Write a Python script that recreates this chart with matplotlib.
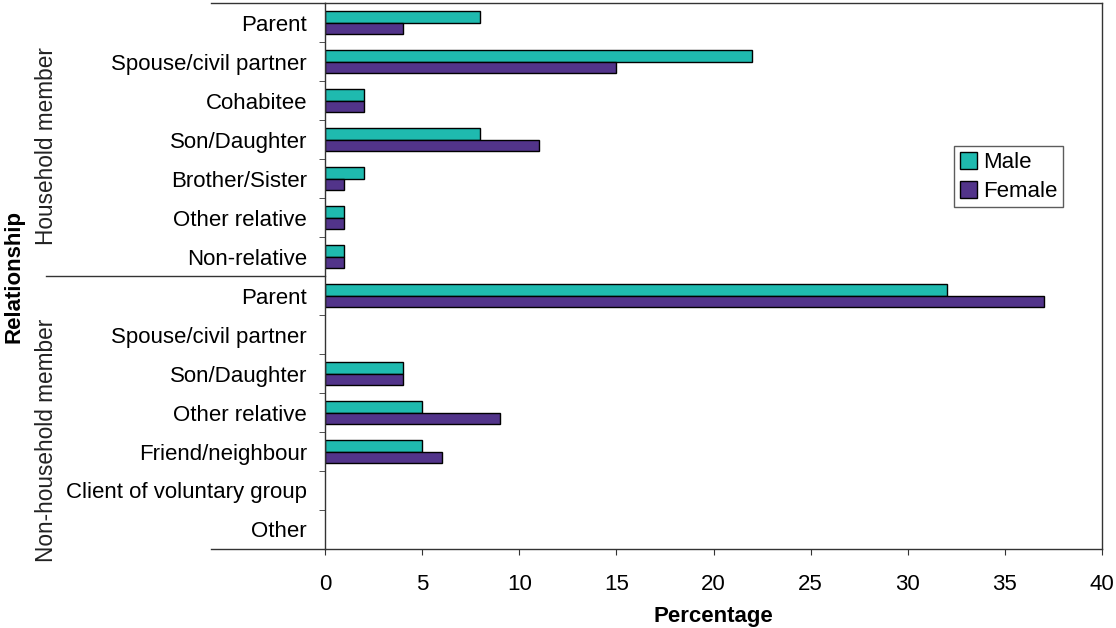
import numpy as np
import matplotlib
matplotlib.use('Agg')
import matplotlib.pyplot as plt
from matplotlib.lines import Line2D

plt.rcParams['font.family'] = ['Liberation Sans', 'DejaVu Sans']

# ---- data ----
categories = ["Parent", "Spouse/civil partner", "Cohabitee", "Son/Daughter",
              "Brother/Sister", "Other relative", "Non-relative",
              "Parent", "Spouse/civil partner", "Son/Daughter", "Other relative",
              "Friend/neighbour", "Client of voluntary group", "Other"]
male = [8, 22, 2, 8, 2, 1, 1, 32, 0, 4, 5, 5, 0, 0]
female = [4, 15, 2, 11, 1, 1, 1, 37, 0, 4, 9, 6, 0, 0]
groups = ["Household member", "Non-household member"]
xticks = [0, 5, 10, 15, 20, 25, 30, 35, 40]

MALE_C = '#1fbaaf'
FEMALE_C = '#52348a'
LINE_C = '#333333'

fig = plt.figure(figsize=(11.16, 6.28), dpi=100)
ax = fig.add_axes([0.2912, 0.1258, 0.6963, 0.8694])

y = np.arange(len(categories))
h = 0.283
# zero-length bars get no outline (Excel draws nothing there)
lw_m = [1.0 if v > 0 else 0 for v in male]
lw_f = [1.0 if v > 0 else 0 for v in female]
ax.barh(y - h / 2, male, height=h, color=MALE_C, edgecolor='black', linewidth=lw_m, label='Male')
ax.barh(y + h / 2, female, height=h, color=FEMALE_C, edgecolor='black', linewidth=lw_f, label='Female')

ax.set_xlim(0, 40)
ax.set_ylim(len(categories) - 0.5, -0.5)
ax.set_xticks(xticks)
ax.set_xticklabels([str(t) for t in xticks], fontsize=16)
ax.set_yticks(y)
ax.set_yticklabels(categories, fontsize=16)
ax.set_yticks(np.arange(len(categories) + 1) - 0.5, minor=True)
ax.tick_params(axis='y', which='major', length=0, pad=13)
ax.tick_params(axis='y', which='minor', length=4, direction='out', color=LINE_C)
ax.tick_params(axis='x', length=4, direction='out', pad=14, color=LINE_C)

for s in ax.spines.values():
    s.set_color(LINE_C)
    s.set_linewidth(1.0)

ax.set_xlabel('Percentage', fontsize=16, fontweight='bold', labelpad=8)

# multi-level category lines (Excel style)
ax.add_line(Line2D([-0.147, 0], [1, 1], transform=ax.transAxes, color=LINE_C, lw=1.0, clip_on=False))
ax.add_line(Line2D([-0.147, 0], [0, 0], transform=ax.transAxes, color=LINE_C, lw=1.0, clip_on=False))
ax.add_line(Line2D([-0.359, 0], [0.5, 0.5], transform=ax.transAxes, color=LINE_C, lw=1.0, clip_on=False))

# group labels
fig.text(0.042, 0.7675, groups[0], rotation=90, ha='center', va='center',
         fontsize=16.3, color='#222222')
fig.text(0.042, 0.2994, groups[1], rotation=90, ha='center', va='center',
         fontsize=16.3, color='#222222')

fig.text(0.0125, 0.5605, 'Relationship', rotation=90, ha='center', va='center',
         fontsize=16, fontweight='bold')

leg = ax.legend(loc='upper left', bbox_to_anchor=(0.8095, 0.738), fontsize=16,
                frameon=True, fancybox=False, borderpad=0.25, labelspacing=0.35,
                handlelength=0.8, handleheight=0.8, handletextpad=0.25, borderaxespad=0)
leg.get_frame().set_edgecolor(LINE_C)
leg.get_frame().set_linewidth(1.0)

fig.savefig('out.png', dpi=100)
